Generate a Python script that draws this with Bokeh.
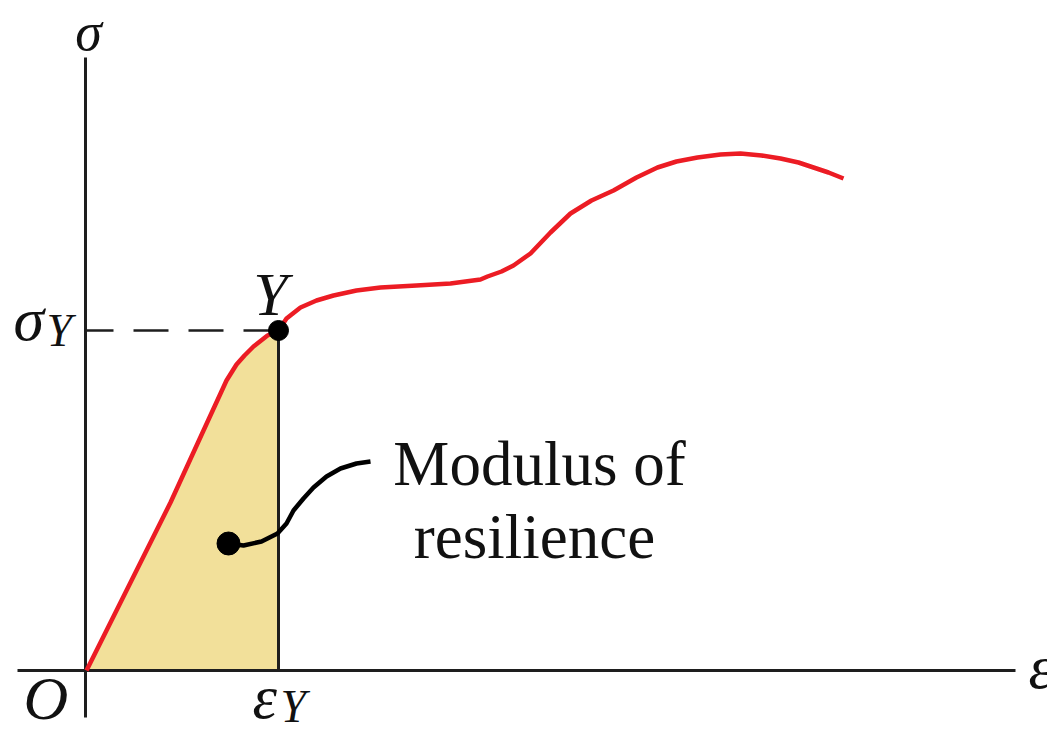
from bokeh.plotting import figure
from bokeh.models import Range1d
from bokeh.core.properties import value
from bokeh.embed import file_html
from bokeh.resources import INLINE

# Stress-strain curve (arbitrary units)
elastic_strain = [0.0, 0.84, 1.17, 1.40, 1.50, 1.58, 1.67, 1.81, 1.92]
elastic_stress = [0.0, 1.68, 2.40, 2.90, 3.06, 3.15, 3.24, 3.35, 3.40]
plastic_strain = [2.00, 2.14, 2.30, 2.47, 2.70, 2.94, 3.30, 3.64, 3.94, 4.01, 4.15, 4.27, 4.44, 4.64, 4.84, 5.05, 5.27, 5.50, 5.71, 5.90, 6.11, 6.34, 6.54, 6.75, 6.94, 7.12, 7.27, 7.42, 7.57]
plastic_stress = [3.52, 3.63, 3.70, 3.75, 3.80, 3.83, 3.85, 3.87, 3.91, 3.94, 3.99, 4.05, 4.17, 4.38, 4.57, 4.70, 4.80, 4.93, 5.03, 5.09, 5.13, 5.16, 5.17, 5.15, 5.12, 5.08, 5.03, 4.98, 4.92]

yield_strain = 1.92
yield_stress = 3.40

# leader curve from the dot to the label
leader_x = [1.42, 1.57, 1.75, 1.91, 2.00, 2.07, 2.17, 2.27, 2.40, 2.54, 2.70, 2.84]
leader_y = [1.27, 1.25, 1.29, 1.37, 1.47, 1.60, 1.72, 1.83, 1.94, 2.02, 2.07, 2.09]

label_lines = ["Modulus of", "resilience"]

p = figure(width=1047, height=733, output_backend="svg", toolbar_location=None,
           x_range=Range1d(-0.86, 9.61), y_range=Range1d(-0.63, 6.70),
           x_axis_location=None, y_axis_location=None, min_border=0)
p.grid.visible = False
p.outline_line_color = None
p.background_fill_color = "white"

axis_col = "#1e1e1e"
serif = value("Liberation Serif")

# shaded area
p.varea(x=elastic_strain, y1=[0] * len(elastic_strain), y2=elastic_stress,
        fill_color="#F2E09A", fill_alpha=1.0)

# axes
p.line(x=[-0.01, -0.01], y=[-0.47, 6.13], line_color=axis_col, line_width=3)
p.line(x=[-0.69, 9.29], y=[0, 0], line_color=axis_col, line_width=3)

# dashed yield line and vertical line
p.line(x=[yield_strain, 0], y=[yield_stress, yield_stress], line_color=axis_col,
       line_width=2.5, line_dash="35 20")
p.line(x=[yield_strain, yield_strain], y=[0, yield_stress], line_color=axis_col, line_width=3)

# stress-strain curve
p.line(x=elastic_strain + plastic_strain, y=elastic_stress + plastic_stress,
       line_color="#EC1C24", line_width=4.5, line_join="round")

# leader
p.line(x=leader_x, y=leader_y, line_color="black", line_width=4.5, line_join="round")
p.scatter(x=[leader_x[0]], y=[leader_y[0]], size=23, color="black")
p.scatter(x=[yield_strain], y=[yield_stress], size=20, color="black")

# labels (offset compensates for where the renderer puts the baseline)
dy = 0.22

def txt(x, y, t, size, style="italic", align="left", baseline="alphabetic", off=dy):
    p.text(x=[x], y=[y + off], text=[t], text_font=serif, text_font_size=size,
           text_font_style=style, text_align=align, text_baseline=baseline,
           text_color="#111111")

txt(0.02, 6.69, "σ", "54px", align="center", baseline="top", off=0.0)
txt(-0.73, 3.30, "σ", "62px")
txt(-0.40, 3.18, "Y", "46px")
txt(1.84, 3.55, "Y", "62px", align="center")
txt(-0.63, -0.49, "O", "62px")
txt(1.66, -0.48, "ε", "62px")
txt(1.94, -0.58, "Y", "46px")
txt(9.42, -0.18, "ε", "62px")
txt(4.53, 1.85, label_lines[0], "63px", style="normal", align="center")
txt(4.48, 1.12, label_lines[1], "63px", style="normal", align="center")

open("out.html", "w").write(file_html(p, INLINE))
